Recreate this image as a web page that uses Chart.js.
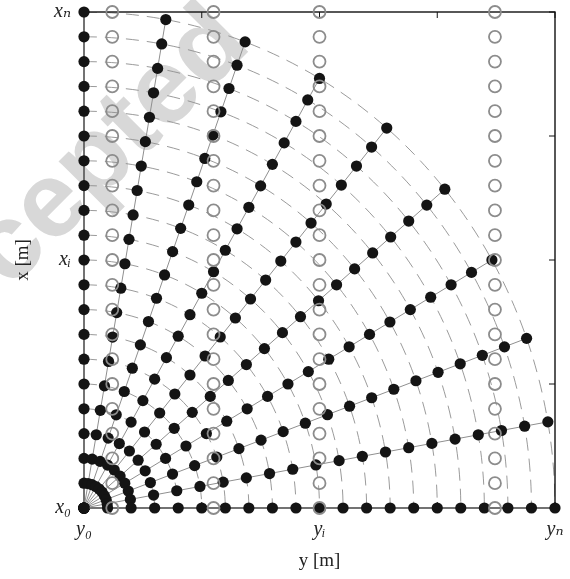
<!DOCTYPE html>
<html>
<head>
<meta charset="utf-8">
<script src="https://cdn.jsdelivr.net/npm/chart.js@4.4.0/dist/chart.umd.min.js"></script>
<style>
  html, body { margin: 0; padding: 0; background: #fff; }
  #wrap { width: 570px; height: 579px; }
</style>
</head>
<body>
<div id="wrap"><canvas id="chart" width="570" height="579"></canvas></div>
<script>
// --- Données ---
// maillage polaire : angles des rayons (degrés) et rayons (unités de grille)
const rayAngles = [0, 10, 20, 30, 40, 50, 60, 70, 80, 90];
const rayRadii = [0, 1, 2, 3, 4, 5, 6, 7, 8, 9, 10, 11, 12, 13, 14, 15, 16, 17, 18, 19, 20];
// arcs pointillés (rayons)
const arcRadii = [1, 2, 3, 4, 5, 6, 7, 8, 9, 10, 11, 12, 13, 14, 15, 16, 17, 18, 19, 20];
// cercles gris : colonnes (axe y horizontal) et lignes (axe x vertical)
const probeCols = [1.2, 5.5, 10, 17.45];
const probeRows = [0, 1, 2, 3, 4, 5, 6, 7, 8, 9, 10, 11, 12, 13, 14, 15, 16, 17, 18, 19, 20];
// graduations
const tickValues = [0, 5, 10, 15, 20];
const yTickLabels = ['y₀', '', 'yᵢ', '', 'yₙ'];
const xTickLabels = ['x₀', '', 'xᵢ', '', 'xₙ'];

const serif = "'Liberation Serif', 'DejaVu Serif', serif";

// --- Construction des jeux de données ---
let datasets = [];

// cercles gris (au-dessus)
datasets.push({
    data: probeCols.flatMap(c => probeRows.map(r => ({ x: c, y: r }))),
    showLine: false,
    pointRadius: 6,
    pointBorderWidth: 1.8,
    pointBorderColor: '#8c8c8c',
    pointBackgroundColor: 'rgba(255,255,255,0)',
    clip: false,
    order: 0
});

// rayons + points noirs
rayAngles.forEach(a => {
    const t = a * Math.PI / 180;
    datasets.push({
        data: rayRadii.map(r => ({ x: r * Math.cos(t), y: r * Math.sin(t) })),
        showLine: true,
        borderColor: '#8f8f8f',
        borderWidth: 1,
        pointRadius: 5.6,
        pointBorderWidth: 0,
        pointBackgroundColor: '#141414',
        clip: false,
        order: 1
    });
});

// --- Plugin : filigrane, arcs, cadre et graduations internes ---
const decorPlugin = {
    id: 'decor',
    beforeDraw(chart) {
        const ctx = chart.ctx;
        ctx.save();
        ctx.translate(83, 217);
        ctx.rotate(-45 * Math.PI / 180);
        ctx.fillStyle = '#d8d8d8';
        ctx.font = "bold 107px 'Liberation Sans', Arial, sans-serif";
        ctx.textAlign = 'center';
        ctx.textBaseline = 'alphabetic';
        ctx.fillText('Accepted', 0, 0);
        ctx.restore();
    },
    beforeDatasetsDraw(chart) {
        const ctx = chart.ctx;
        const xs = chart.scales.x, ys = chart.scales.y;
        const area = chart.chartArea;
        const cx = xs.getPixelForValue(0), cy = ys.getPixelForValue(0);

        // arcs pointillés
        ctx.save();
        ctx.beginPath();
        ctx.rect(area.left, area.top, area.right - area.left, area.bottom - area.top);
        ctx.clip();
        ctx.strokeStyle = '#8f8f8f';
        ctx.lineWidth = 0.9;
        ctx.setLineDash([13, 8]);
        arcRadii.forEach(r => {
            const rx = xs.getPixelForValue(r) - cx;
            const ry = cy - ys.getPixelForValue(r);
            ctx.beginPath();
            ctx.ellipse(cx, cy, rx, ry, 0, -Math.PI / 2, 0, false);
            ctx.stroke();
        });
        ctx.restore();

        // cadre
        ctx.save();
        ctx.strokeStyle = '#111';
        ctx.lineWidth = 1.4;
        ctx.strokeRect(area.left, area.top, area.right - area.left, area.bottom - area.top);
        // graduations vers l'intérieur
        ctx.lineWidth = 1;
        const tl = 6;
        tickValues.forEach(v => {
            const px = xs.getPixelForValue(v);
            ctx.beginPath();
            ctx.moveTo(px, area.bottom); ctx.lineTo(px, area.bottom - tl);
            ctx.moveTo(px, area.top); ctx.lineTo(px, area.top + tl);
            ctx.stroke();
            const py = ys.getPixelForValue(v);
            ctx.beginPath();
            ctx.moveTo(area.left, py); ctx.lineTo(area.left + tl, py);
            ctx.moveTo(area.right, py); ctx.lineTo(area.right - tl, py);
            ctx.stroke();
        });
        ctx.restore();
    }
};

function axisFont() {
    return { family: serif, style: 'italic', size: 20 };
}

// taille fixe des axes, sans marge ajoutée par les étiquettes
function fixAxis(s, size) {
    if (s.isHorizontal()) s.height = size; else s.width = size;
    s.paddingTop = 0; s.paddingBottom = 0;
    s.paddingLeft = 0; s.paddingRight = 0;
}

const chart = new Chart(document.getElementById('chart').getContext('2d'), {
    type: 'scatter',
    data: { datasets: datasets },
    options: {
        responsive: false,
        animation: false,
        devicePixelRatio: 1,
        layout: { padding: { top: 12, right: 15, left: 0, bottom: 0 } },
        plugins: { legend: { display: false }, tooltip: { enabled: false } },
        scales: {
            x: {
                type: 'linear',
                min: 0,
                max: 20,
                afterBuildTicks: s => { s.ticks = tickValues.map(v => ({ value: v })); },
                afterFit: s => fixAxis(s, 71),
                grid: { display: false },
                border: { display: false },
                ticks: {
                    autoSkip: false,
                    maxRotation: 0,
                    padding: 2,
                    color: '#222',
                    font: axisFont(),
                    callback: v => yTickLabels[tickValues.indexOf(v)]
                },
                title: {
                    display: true,
                    text: 'y [m]',
                    color: '#222',
                    font: { family: serif, size: 19 },
                    padding: { top: 0, bottom: 7 }
                }
            },
            y: {
                type: 'linear',
                min: 0,
                max: 20,
                afterBuildTicks: s => { s.ticks = tickValues.map(v => ({ value: v })); },
                afterFit: s => fixAxis(s, 84),
                grid: { display: false },
                border: { display: false },
                ticks: {
                    autoSkip: false,
                    padding: 5,
                    color: '#222',
                    font: axisFont(),
                    callback: v => xTickLabels[tickValues.indexOf(v)]
                },
                title: {
                    display: true,
                    text: 'x [m]',
                    color: '#222',
                    font: { family: serif, size: 19 },
                    padding: { top: 12, bottom: 0 }
                }
            }
        }
    },
    plugins: [decorPlugin]
});
</script>
</body>
</html>
